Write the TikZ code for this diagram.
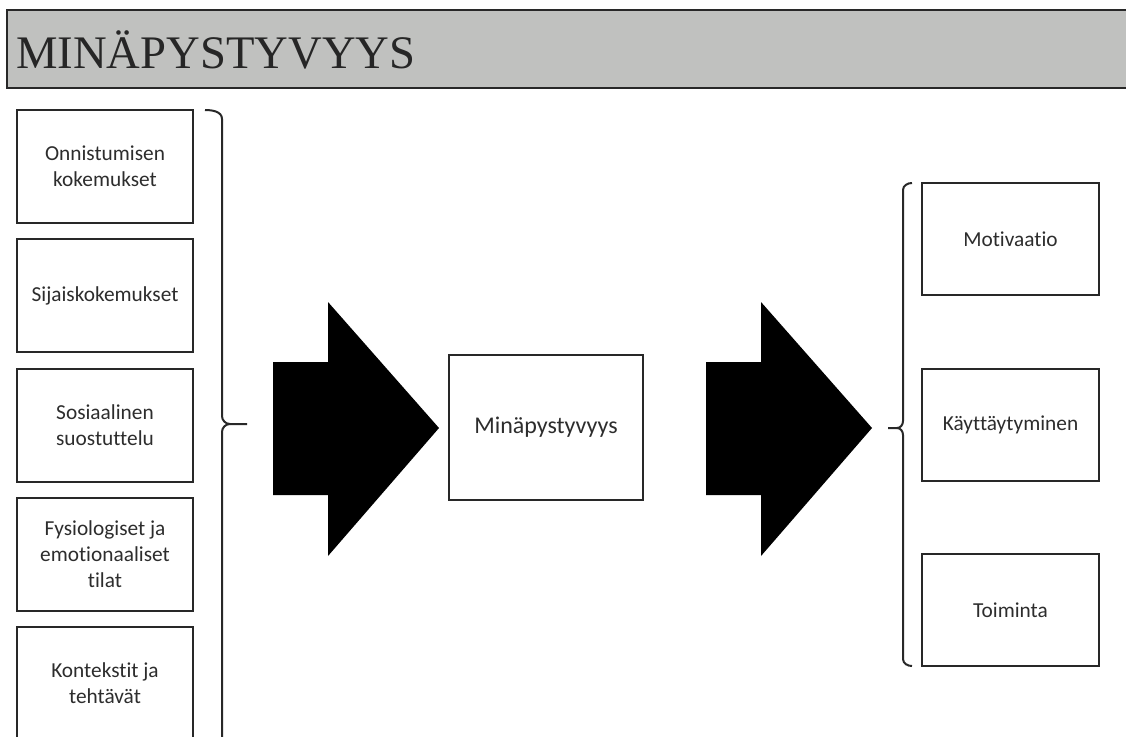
\documentclass[tikz,border=0pt]{standalone}
\usepackage{fontspec}
\setsansfont{Carlito}[Ligatures=NoCommon]
\newfontfamily\titlefont{Liberation Serif}
\definecolor{titlegray}{RGB}{192,193,191}
\definecolor{linegray}{RGB}{40,40,40}
\definecolor{textgray}{RGB}{45,45,45}
\begin{document}
\begin{tikzpicture}[x=0.75pt,y=-0.75pt,
  lbox/.style={draw=linegray,line width=1.5pt,fill=white,minimum width=132pt,minimum height=84.75pt,align=center,font=\sffamily\fontsize{16}{19.5}\selectfont,text=textgray,inner sep=0pt},
  rbox/.style={lbox,minimum width=132.75pt,minimum height=84pt},
  bigarrow/.style={fill=black,draw=none},
  bracepath/.style={draw=linegray,line width=1.5pt}]
\useasboundingbox (0,0) rectangle (1126,736);
\clip (0,0) rectangle (1126,736);
\fill[white] (0,0) rectangle (1126,736);
% title bar
\draw[linegray,line width=1.2pt,fill=titlegray] (7,10) rectangle (1135,88);
\node[anchor=base west,inner sep=0pt,font=\titlefont\fontsize{35}{42}\selectfont,text=black!85] (title) at (16,68) {MINÄPYSTYVYYS};
% left boxes
\node[lbox] (b1) at (105,166) {Onnistumisen\\kokemukset};
\node[lbox] (b2) at (105,295.5) {Sijaiskokemukset};
\node[lbox] (b3) at (105,425.5) {Sosiaalinen\\suostuttelu};
\node[lbox] (b4) at (105,554.5) {Fysiologiset ja\\emotionaaliset\\tilat};
\node[lbox] (b5) at (105,683.5) {Kontekstit ja\\tehtävät};
% left brace
\coordinate (lb1) at (205,110);
\coordinate (lb2) at (230,424);
\coordinate (lbtip) at (247,424);
\draw[bracepath] (lb1) to[out=0,in=90] (222,119) -- (222,416) to[out=-90,in=180] (lb2) -- (lbtip);
\draw[bracepath] (lb2) to[out=180,in=90] (222,432) -- (222,745);
% center box
\node[lbox,minimum width=145.5pt,minimum height=108.75pt,font=\sffamily\fontsize{18}{22}\selectfont] (mid) at (546,427.5) {Minäpystyvyys};
% arrows
\fill[bigarrow] (273,362) -- (328,362) -- (328,302) -- (439,428) -- (328,556) -- (328,495) -- (273,495) -- cycle;
\fill[bigarrow] (706,362) -- (761,362) -- (761,302) -- (872,428) -- (761,556) -- (761,495) -- (706,495) -- cycle;
% right brace
\coordinate (rb1) at (912,183);
\coordinate (rb2) at (897,428);
\coordinate (rbtip) at (888,428);
\coordinate (rb3) at (912,666);
\draw[bracepath] (rb1) to[out=180,in=90] (903,190) -- (903,421) to[out=-90,in=0] (rb2) -- (rbtip);
\draw[bracepath] (rb2) to[out=0,in=90] (903,435) -- (903,659) to[out=-90,in=180] (rb3);
% right boxes
\node[rbox] (r1) at (1010.5,239) {Motivaatio};
\node[rbox] (r2) at (1010.5,425) {Käyttäytyminen};
\node[rbox] (r3) at (1010.5,610) {Toiminta};
\end{tikzpicture}
\end{document}
